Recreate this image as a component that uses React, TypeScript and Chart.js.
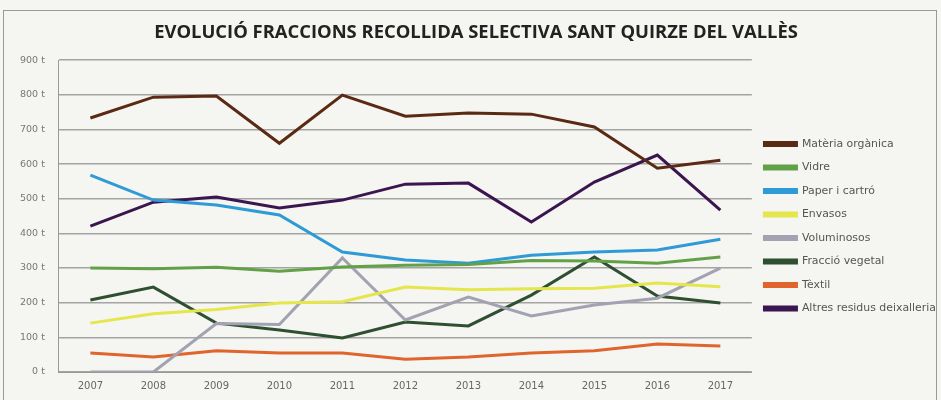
import React, { useEffect, useRef } from "react";
import { Chart, registerables } from "chart.js";

Chart.register(...registerables);

const years = ["2007", "2008", "2009", "2010", "2011", "2012", "2013", "2014", "2015", "2016", "2017"];
const materiaOrganica = [733, 793, 796, 660, 799, 738, 747, 744, 707, 588, 611];
const vidre = [300, 298, 302, 291, 303, 308, 310, 322, 320, 314, 332];
const paperCartro = [568, 496, 482, 453, 346, 323, 314, 337, 346, 352, 383];
const envasos = [141, 168, 180, 199, 203, 245, 237, 240, 242, 257, 246];
const voluminosos = [0, 0, 140, 137, 329, 150, 216, 162, 193, 213, 300];
const fraccioVegetal = [208, 245, 141, 121, 98, 144, 133, 222, 332, 219, 199];
const textil = [55, 43, 61, 55, 55, 37, 43, 55, 61, 81, 75];
const altresResidus = [421, 490, 505, 473, 496, 542, 545, 433, 548, 626, 467];
const yTicks = [0, 100, 200, 300, 400, 500, 600, 700, 800, 900];

const series = [
  { label: "Matèria orgànica", data: materiaOrganica, color: "#5a2a14" },
  { label: "Vidre", data: vidre, color: "#63a148" },
  { label: "Paper i cartró", data: paperCartro, color: "#2e9ad6" },
  { label: "Envasos", data: envasos, color: "#e4e64c" },
  { label: "Voluminosos", data: voluminosos, color: "#a2a2b2" },
  { label: "Fracció vegetal", data: fraccioVegetal, color: "#2f4f31" },
  { label: "Tèxtil", data: textil, color: "#e0652c" },
  { label: "Altres residus deixalleria", data: altresResidus, color: "#3b1550" },
];

export default function App() {
  const ref = useRef<HTMLCanvasElement>(null);
  useEffect(() => {
    if (!ref.current) return;
    const chart = new Chart(ref.current, {
      type: "line",
      data: {
        labels: years,
        datasets: series.map((s) => ({
          label: s.label,
          data: s.data,
          borderColor: s.color,
          backgroundColor: s.color,
          borderWidth: 3,
          pointRadius: 0,
          tension: 0,
        })),
      },
      options: {
        animation: false,
        responsive: true,
        maintainAspectRatio: false,
        layout: { padding: { left: 6, right: -5, top: 10, bottom: 8 } },
        plugins: {
          title: {
            display: true,
            text: "EVOLUCIÓ FRACCIONS RECOLLIDA SELECTIVA SANT QUIRZE DEL VALLÈS",
            color: "#222",
            font: { family: "Open Sans", size: 18.4, weight: "bold" },
            padding: { top: 12, bottom: 16 },
          },
          legend: {
            position: "right",
            align: "start",
            title: {
              display: true,
              text: " ",
              font: { size: 10 },
              padding: { top: 0, bottom: 104 },
            },
            labels: {
              boxWidth: 32,
              boxHeight: 3,
              padding: 12.6,
              color: "#555",
              font: { family: "DejaVu Sans", size: 10.9 },
            },
          },
          tooltip: { enabled: false },
        },
        scales: {
          x: {
            offset: true,
            grid: { display: false },
            border: { color: "#999", width: 1 },
            ticks: { color: "#666", font: { family: "DejaVu Sans", size: 10 }, padding: 0 },
          },
          y: {
            min: 0,
            max: 900,
            afterBuildTicks: (axis: any) => {
              axis.ticks = yTicks.map((v) => ({ value: v }));
            },
            grid: { color: "#a4a4a4", lineWidth: 1.6, drawTicks: false },
            border: { color: "#999", width: 1 },
            ticks: {
              color: "#777",
              font: { family: "DejaVu Sans", size: 9.5 },
              padding: 14,
              callback: (v: any) => `${v} t`,
            },
          },
        },
      },
    });
    return () => chart.destroy();
  }, []);
  return (
    <div style={{ position: "fixed", left: 0, top: 0, width: 941, height: 400, background: "#f5f5f1" }}>
      <div style={{ position: "absolute", left: 3, top: 10, width: 934, height: 400, border: "1px solid #999", boxSizing: "border-box" }} />
      <div style={{ position: "absolute", left: 0, top: 0, width: 941, height: 400 }}>
        <canvas ref={ref} />
      </div>
    </div>
  );
}
